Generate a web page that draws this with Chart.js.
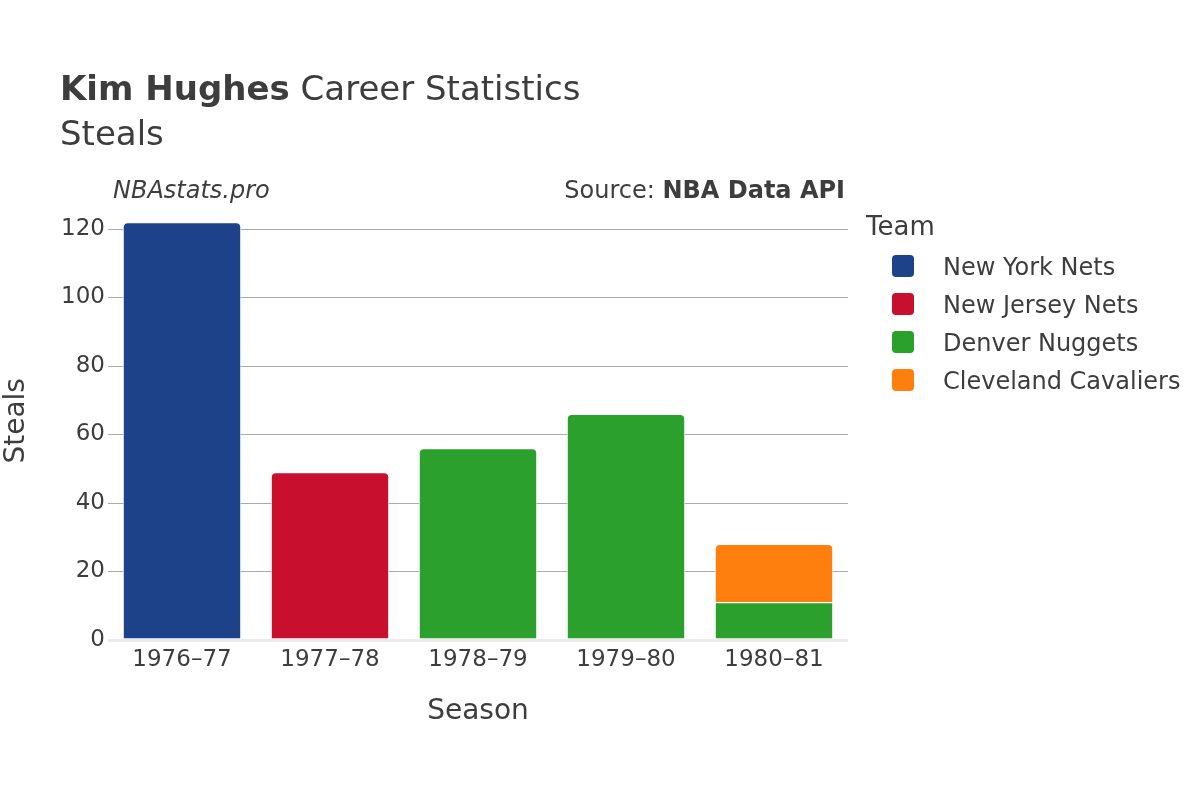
<!DOCTYPE html>
<html>
<head>
<meta charset="utf-8">
<script src="https://cdn.jsdelivr.net/npm/chart.js@4.4.1/dist/chart.umd.min.js"></script>
<style>
    body { margin: 0; background: #fff; font-family: "DejaVu Sans", sans-serif; color: #3d3d3d; }
    #wrap { position: relative; width: 1200px; height: 800px; }
    #grafica { position: absolute; left: 0; top: 0; }
    .txt { position: absolute; white-space: nowrap; line-height: 1; }
    .leg { position: absolute; left: 892px; width: 22px; height: 22px; border-radius: 4px; }
</style>
</head>
<body>
<div id="wrap">
    <canvas id="grafica" width="1200" height="800"></canvas>
    <div class="txt" style="left:60px; top:71px; font-size:34px;"><b>Kim Hughes</b> Career Statistics</div>
    <div class="txt" style="left:60px; top:116px; font-size:34px;">Steals</div>
    <div class="txt" style="left:113px; top:178px; font-size:24px; font-style:italic;">NBAstats.pro</div>
    <div class="txt" style="right:355px; top:178px; font-size:24px;">Source: <b>NBA Data API</b></div>
    <div class="txt" style="left:866px; top:213px; font-size:26px;">Team</div>
    <div id="leyenda"></div>
</div>
<script>
const temporadas = ['1976–77', '1977–78', '1978–79', '1979–80', '1980–81'];
const equipos = ['New York Nets', 'New Jersey Nets', 'Denver Nuggets', 'Cleveland Cavaliers'];
const newYorkNets = [122, null, null, null, null];
const newJerseyNets = [null, 49, null, null, null];
const denverNuggets = [null, null, 56, 66, 11];
const clevelandCavaliers = [null, null, null, null, 17];
const ticksY = [0, 20, 40, 60, 80, 100, 120];

const coloresEquipos = ['#1d428a', '#c8102e', '#2ca02c', '#ff7f0e'];
const valores = [newYorkNets, newJerseyNets, denverNuggets, clevelandCavaliers];

// leyenda en html, a partir de los equipos
const leyenda = document.getElementById('leyenda');
equipos.forEach((equipo, i) => {
    const cuadro = document.createElement('div');
    cuadro.className = 'leg';
    cuadro.style.top = (255 + i * 38) + 'px';
    cuadro.style.background = coloresEquipos[i];
    leyenda.appendChild(cuadro);

    const texto = document.createElement('div');
    texto.className = 'txt';
    texto.style.left = '943px';
    texto.style.top = (255 + i * 38) + 'px';
    texto.style.fontSize = '24px';
    texto.textContent = equipo;
    leyenda.appendChild(texto);
});

const ctx = document.getElementById('grafica').getContext('2d');

new Chart(ctx, {
    type: 'bar',
    data: {
        labels: temporadas,
        datasets: equipos.map((equipo, i) => ({
            label: equipo,
            data: valores[i],
            backgroundColor: coloresEquipos[i],
            borderColor: 'rgba(255, 255, 255, 0.7)',
            borderWidth: 1,
            borderRadius: 5,
            borderSkipped: 'start'
        }))
    },
    options: {
        responsive: false,
        animation: false,
        layout: {
            padding: { top: 201.6, right: 352, bottom: 0, left: 0 }
        },
        datasets: {
            bar: {
                categoryPercentage: 0.8,
                barPercentage: 1
            }
        },
        plugins: {
            legend: { display: false },
            tooltip: { enabled: false }
        },
        scales: {
            x: {
                stacked: true,
                grid: { display: false },
                border: { display: false },
                ticks: {
                    color: '#3d3d3d',
                    font: { family: 'DejaVu Sans', size: 23 },
                    padding: -2
                },
                title: {
                    display: true,
                    text: 'Season',
                    color: '#3d3d3d',
                    font: { family: 'DejaVu Sans', size: 28 },
                    padding: { bottom: 71 }
                },
                afterFit: (scale) => { scale.height = 160; }
            },
            y: {
                stacked: true,
                min: 0,
                max: 128,
                border: { display: false },
                grid: {
                    drawTicks: false,
                    color: (c) => c.tick && c.tick.value === 0 ? '#ebebeb' : '#ababab',
                    lineWidth: (c) => c.tick && c.tick.value === 0 ? 3 : 1
                },
                afterBuildTicks: (scale) => {
                    scale.ticks = ticksY.map(v => ({ value: v }));
                },
                ticks: {
                    color: '#3d3d3d',
                    font: { family: 'DejaVu Sans', size: 23 },
                    padding: 3
                },
                title: {
                    display: true,
                    text: 'Steals',
                    color: '#3d3d3d',
                    font: { family: 'DejaVu Sans', size: 28 },
                    padding: { top: 0 }
                },
                afterFit: (scale) => { scale.width = 108; }
            }
        }
    }
});
</script>
</body>
</html>
